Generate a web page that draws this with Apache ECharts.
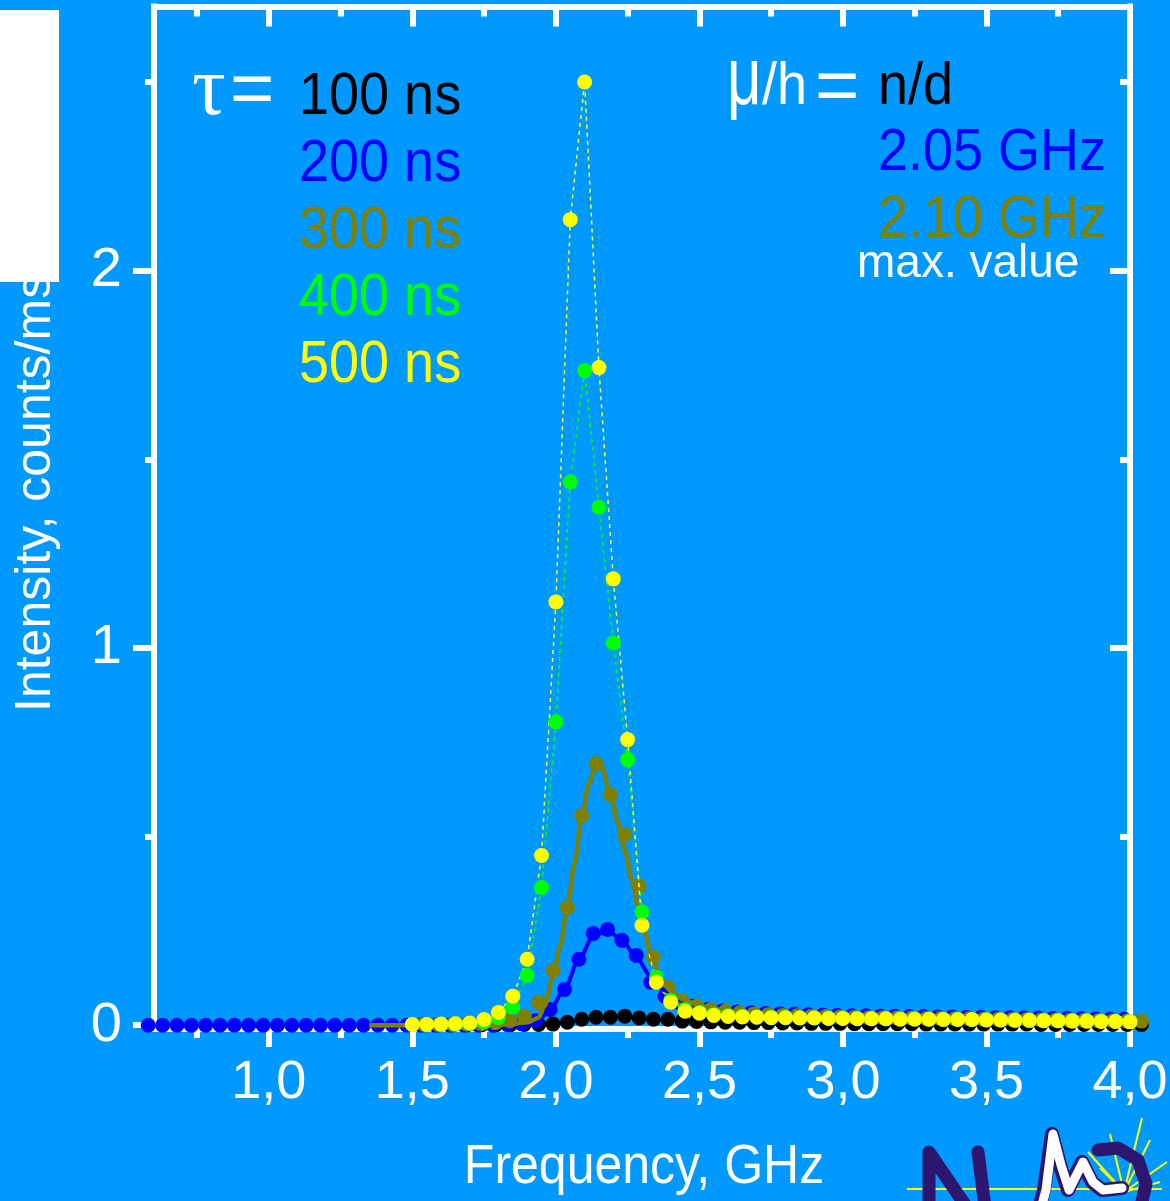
<!DOCTYPE html>
<html><head><meta charset="utf-8">
<script src="https://cdn.jsdelivr.net/npm/echarts@6/dist/echarts.min.js"></script>
<style>html,body{margin:0;padding:0;background:#0099ff;overflow:hidden}#c{width:1170px;height:1201px}</style>
</head><body><div id="c"></div>
<script>
// ---------- DATA ----------
// frequency grids (GHz)
const freqA = [1.50,1.55,1.60,1.65,1.70,1.75,1.80,1.85,1.90,1.95,2.00,2.05,2.10,2.15,2.20,2.25,2.30,2.35,2.40,2.45,2.50,2.55,2.60,2.65,2.70,2.75,2.80,2.85,2.90,2.95,3.00,3.05,3.10,3.15,3.20,3.25,3.30,3.35,3.40,3.45,3.50,3.55,3.60,3.65,3.70,3.75,3.80,3.85,3.90,3.95,4.00];
const freqB = [1.54,1.59,1.64,1.69,1.74,1.79,1.84,1.89,1.94,1.99,2.04,2.09,2.14,2.19,2.24,2.29,2.34,2.39,2.44,2.49,2.54,2.59,2.64,2.69,2.74,2.79,2.84,2.89,2.94,2.99,3.04,3.09,3.14,3.19,3.24,3.29,3.34,3.39,3.44,3.49,3.54,3.59,3.64,3.69,3.74,3.79,3.84,3.89,3.94,3.99,4.04];
const freqC = [0.58,0.63,0.68,0.73,0.78,0.83,0.88,0.93,0.98,1.03,1.08,1.13,1.18,1.23,1.28,1.33,1.38,1.43,1.48,1.53,1.58,1.63,1.68,1.73,1.78,1.83,1.88,1.93,1.98,2.03,2.08,2.13,2.18,2.23,2.28,2.33,2.38,2.43,2.48,2.53,2.58,2.63,2.68,2.73,2.78,2.83,2.88,2.93,2.98,3.03,3.08,3.13,3.18,3.23,3.28,3.33,3.38,3.43,3.48,3.53,3.58,3.63,3.68,3.73,3.78,3.83,3.88,3.93,3.98];

// 100 ns (black), on freqB
const tau100 = [0.001,0.001,0.001,0.001,0.001,0.001,0.001,0.002,0.002,0.003,0.008,0.016,0.021,0.021,0.024,0.019,0.016,0.016,0.011,0.010,0.009,0.008,0.008,0.007,0.007,0.006,0.006,0.005,0.005,0.005,0.004,0.004,0.004,0.004,0.004,0.003,0.003,0.003,0.003,0.003,0.003,0.003,0.003,0.002,0.002,0.002,0.002,0.002,0.002,0.002,0.002];
// 200 ns (blue), on freqC
const tau200 = [0,0,0,0,0,0,0,0,0,0,0,0,0,0,0,0,0,0,0,0,0,0,0,0,0,0.002,0.004,0.012,0.042,0.095,0.175,0.243,0.254,0.225,0.185,0.114,0.077,0.060,0.050,0.042,0.038,0.035,0.033,0.031,0.030,0.029,0.028,0.027,0.026,0.025,0.025,0.024,0.024,0.023,0.023,0.022,0.022,0.021,0.021,0.020,0.020,0.019,0.019,0.018,0.018,0.017,0.017,0.016,0.016];
// 300 ns (olive), on freqB
const tau300 = [0.002,0.002,0.002,0.003,0.004,0.007,0.012,0.024,0.060,0.145,0.312,0.556,0.693,0.611,0.505,0.368,0.180,0.100,0.065,0.050,0.042,0.037,0.033,0.030,0.028,0.026,0.025,0.024,0.023,0.022,0.021,0.020,0.020,0.019,0.019,0.018,0.018,0.017,0.017,0.016,0.016,0.015,0.015,0.014,0.014,0.013,0.013,0.012,0.012,0.011,0.011];
// 400 ns (green), on freqA
const tau400 = [0.002,0.002,0.002,0.003,0.004,0.008,0.020,0.048,0.132,0.365,0.804,1.440,1.735,1.373,1.013,0.704,0.300,0.127,0.066,0.042,0.034,0.028,0.025,0.023,0.022,0.021,0.021,0.020,0.020,0.019,0.019,0.018,0.018,0.017,0.017,0.017,0.016,0.016,0.016,0.015,0.015,0.014,0.014,0.013,0.013,0.012,0.012,0.011,0.011,0.010,0.010];
// 500 ns (yellow), on freqA
const tau500 = [0.002,0.002,0.003,0.004,0.006,0.015,0.034,0.077,0.175,0.450,1.122,2.135,2.500,1.743,1.183,0.757,0.265,0.114,0.061,0.037,0.032,0.026,0.023,0.022,0.021,0.020,0.020,0.019,0.019,0.018,0.018,0.017,0.017,0.017,0.016,0.016,0.016,0.015,0.015,0.015,0.014,0.014,0.013,0.013,0.012,0.012,0.011,0.011,0.010,0.010,0.009];

// fitted curves
const fitFreq200 = [1.35,1.50,1.65,1.75,1.80,1.85,1.90,1.95,1.98,2.03,2.08,2.13,2.18,2.23,2.28,2.33,2.38,2.43,2.50,2.60,2.75,3.00,3.30,3.60,4.00];
const fit200     = [0,0,0,0,0.001,0.003,0.008,0.022,0.042,0.095,0.175,0.235,0.252,0.225,0.180,0.130,0.092,0.066,0.048,0.033,0.024,0.018,0.014,0.011,0.008];
const fitFreq300 = [1.35,1.45,1.55,1.65,1.75,1.80,1.85,1.90,1.94,1.96,1.99,2.015,2.04,2.065,2.09,2.115,2.14,2.16,2.19,2.215,2.24,2.265,2.29,2.31,2.33,2.355,2.375,2.40,2.44,2.50,2.55,2.60,2.70,2.80,2.90,3.00,3.20,3.40,3.60,3.80,4.04];
const fit300     = [0,0,0,0,0.0005,0.001,0.003,0.008,0.020,0.050,0.130,0.210,0.310,0.430,0.550,0.640,0.693,0.685,0.610,0.540,0.465,0.385,0.305,0.245,0.193,0.145,0.114,0.090,0.069,0.052,0.043,0.037,0.029,0.024,0.020,0.017,0.013,0.010,0.008,0.006,0.004];

// ticks
const xMajor = [1.0,1.5,2.0,2.5,3.0,3.5,4.0];
const xMinor = [0.75,1.25,1.75,2.25,2.75,3.25,3.75];
const xTickLabels = ['1,0','1,5','2,0','2,5','3,0','3,5','4,0'];
const yMajor = [0,1,2];
const yMinor = [0.5,1.5,2.5];
const yTickLabels = ['0','1','2'];

const xTitle = 'Frequency, GHz';
const yTitle = 'Intensity, counts/ms';
const legendTau = ['100 ns','200 ns','300 ns','400 ns','500 ns'];
const legendMu = ['n/d','2.05 GHz','2.10 GHz'];

// ---------- CHART ----------
const FONT = '"Liberation Sans", Arial, Helvetica, sans-serif';
const WHITE = '#ffffff';
const C = {black:'#000000', blue:'#0000ff', olive:'#808000', green:'#00ff00', yellow:'#ffff00'};
const zip = (f, v) => f.map((x, i) => [x, v[i]]);

const chart = echarts.init(document.getElementById('c'), null, {renderer: 'canvas'});

function axisCommon(min, max) {
  return {type: 'value', min: min, max: max, splitLine: {show: false}, axisPointer: {show: false}};
}
function mkX(pos, ticks, len, inside, showLine, labels) {
  return Object.assign(axisCommon(0.6, 4.0), {
    position: pos,
    axisLine: {show: showLine, onZero: false, lineStyle: {color: WHITE, width: 6, cap: 'square'}},
    axisTick: {show: true, inside: inside, length: len, customValues: ticks, lineStyle: {color: WHITE, width: 6}},
    axisLabel: labels ? {
      show: true, customValues: xMajor, margin: 27, color: WHITE, fontSize: 54, fontFamily: FONT,
      formatter: v => xTickLabels[xMajor.findIndex(t => Math.abs(t - v) < 1e-6)]
    } : {show: false}
  });
}
function mkY(pos, ticks, len, inside, showLine, labels) {
  return Object.assign(axisCommon(-0.01, 2.7), {
    position: pos,
    axisLine: {show: showLine, onZero: false, lineStyle: {color: WHITE, width: 6, cap: 'square'}},
    axisTick: {show: true, inside: inside, length: len, customValues: ticks, lineStyle: {color: WHITE, width: 6}},
    axisLabel: labels ? {
      show: true, customValues: yMajor, margin: 32, color: WHITE, fontSize: 56, fontFamily: FONT,
      formatter: v => yTickLabels[yMajor.findIndex(t => Math.abs(t - v) < 1e-6)]
    } : {show: false}
  });
}

const dot = 15;
function scat(name, f, v, color) {
  return {name: name, type: 'scatter', data: zip(f, v), symbol: 'circle', symbolSize: dot,
          itemStyle: {color: color, opacity: 1}, clip: false, silent: true};
}
function dashLine(name, f, v, color) {
  return {name: name, type: 'line', data: zip(f, v), symbol: 'circle', symbolSize: dot, showSymbol: true,
          itemStyle: {color: color, borderWidth: 0}, lineStyle: {color: color, width: 1.5, type: [4, 4]},
          silent: true, clip: false};
}
function fitLine(name, f, v, color, w) {
  return {name: name, type: 'line', data: zip(f, v), showSymbol: false, smooth: 0.3, smoothMonotone: 'x',
          lineStyle: {color: color, width: w}, silent: true};
}

const txt = (text, x, y, color, size, extra) => Object.assign({
  type: 'text', x: x, y: y, z: 60,
  style: Object.assign({text: text, fill: color, fontSize: size, fontFamily: FONT, align: 'left', verticalAlign: 'middle'}, extra && extra.style || {})
}, extra && extra.el || {});

const tauColors = [C.black, C.blue, C.olive, C.green, C.yellow];
const tauY = [98, 165, 232, 299, 366];
const muColors = [C.black, C.blue, C.olive];
const muY = [88, 154, 221];

const graphics = [];
graphics.push(txt(yTitle, 36, 712, WHITE, 50, {el: {rotation: Math.PI / 2}}));
graphics.push({type: 'rect', shape: {x: 0, y: 10, width: 59, height: 272}, style: {fill: '#ffffff'}, z: 100});
graphics.push(txt(xTitle, 644, 1168, WHITE, 50, {el: {scaleY: 1.1}}, {}));
graphics[graphics.length - 1].style.align = 'center';
graphics.push(txt('τ', 192, 92, WHITE, 84, {style: {fontFamily: '"Liberation Serif", "DejaVu Serif", serif'}}));
graphics.push(txt('=', 230, 93, WHITE, 76));
legendTau.forEach((t, i) => graphics.push(txt(t, 299, tauY[i], tauColors[i], 54, {el: {scaleY: 1.1}})));
graphics.push(txt('μ', 727, 82, WHITE, 60, {el: {scaleY: 1.35}}));
graphics.push(txt('/h', 762, 88, WHITE, 54, {el: {scaleY: 1.1}}));
graphics.push(txt('=', 815, 90, WHITE, 76));
legendMu.forEach((t, i) => graphics.push(txt(t, 878, muY[i], muColors[i], 54, {el: {scaleY: 1.1}})));
graphics.push(txt('max. value', 857, 264, WHITE, 46));

// logo (bottom right)
const purple = '#2d1670';
graphics.push({type: 'line', shape: {x1: 907, y1: 1189, x2: 1162, y2: 1189}, style: {stroke: C.yellow, lineWidth: 2}, z: 70});
[[1142,1118],[1167,1162],[1110,1134],[1088,1152],[1160,1182],[1100,1168],[1150,1140]].forEach(p => {
  graphics.push({type: 'line', shape: {x1: 1124, y1: 1192, x2: p[0], y2: p[1]}, style: {stroke: C.yellow, lineWidth: 2}, z: 70});
});
graphics.push({type: 'polyline', shape: {points: [[929,1215],[929,1152],[972,1215]]}, style: {stroke: purple, lineWidth: 13, lineCap: 'round', lineJoin: 'round', fill: null}, z: 71});
graphics.push({type: 'polyline', shape: {points: [[978,1152],[986,1215]]}, style: {stroke: purple, lineWidth: 13, lineCap: 'round', fill: null}, z: 71});
graphics.push({type: 'polyline', shape: {points: [[1098,1150],[1118,1148],[1138,1160],[1146,1184],[1140,1210]]}, style: {stroke: purple, lineWidth: 13, lineCap: 'round', lineJoin: 'round', fill: null}, z: 71});
graphics.push({type: 'polyline', shape: {points: [[1038,1212],[1044,1190],[1052,1134],[1060,1165],[1068,1190],[1082,1162],[1092,1182],[1102,1190],[1122,1188]]}, style: {stroke: purple, lineWidth: 14, lineCap: 'round', lineJoin: 'round', fill: null}, z: 72});
graphics.push({type: 'polyline', shape: {points: [[1040,1212],[1046,1190],[1053,1134],[1061,1165],[1069,1190],[1083,1162],[1093,1182],[1103,1190],[1122,1188]]}, style: {stroke: '#ffffff', lineWidth: 9, lineCap: 'round', lineJoin: 'round', fill: null}, z: 73});

chart.setOption({
  animation: false,
  backgroundColor: '#0099ff',
  grid: {left: 154, right: 40, top: 6.5, bottom: 172, outerBoundsMode: 'none', containLabel: false},
  xAxis: [
    mkX('bottom', xMajor, 18, false, true, true),
    mkX('bottom', xMinor, 9, false, false, false),
    mkX('top', xMajor, 20, true, true, false),
    mkX('top', xMinor, 10, true, false, false)
  ],
  yAxis: [
    mkY('left', yMajor, 21, false, true, true),
    mkY('left', yMinor, 9, false, false, false),
    mkY('right', yMajor, 20, true, true, false),
    mkY('right', yMinor, 10, true, false, false)
  ],
  series: [
    scat('100 ns', freqB, tau100, C.black),
    scat('200 ns', freqC, tau200, C.blue),
    scat('300 ns', freqB, tau300, C.olive),
    dashLine('400 ns', freqA, tau400, C.green),
    dashLine('500 ns', freqA, tau500, C.yellow),
    fitLine('200 ns fit', fitFreq200, fit200, C.blue, 4),
    fitLine('300 ns fit', fitFreq300, fit300, C.olive, 4.5)
  ],
  graphic: graphics
});
</script>
</body></html>
